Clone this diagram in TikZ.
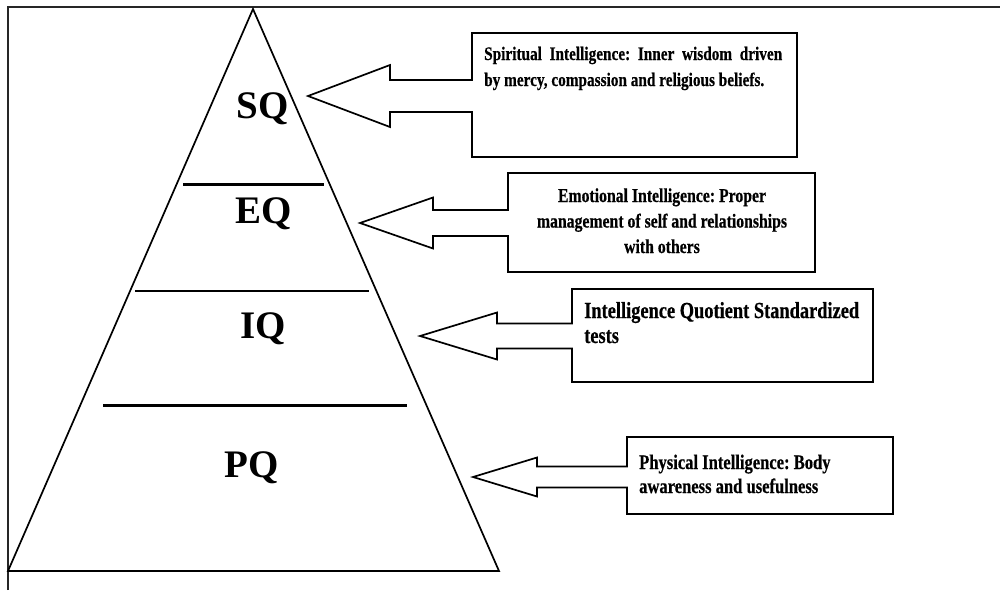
\documentclass[tikz,border=0pt]{standalone}
\usepackage{fontspec}
\setmainfont{Liberation Serif}
\newfontfamily\condfont[FakeStretch=0.8,FakeBold=0.5]{Liberation Serif}
\tikzset{
  frameline/.style={line width=2pt, draw=black!85},
  triline/.style={line width=1.7pt},
  sepline/.style={line width=3pt},
  callline/.style={line width=1.7pt, line join=miter},
  lvl/.style={anchor=base, inner sep=0pt, font=\fontsize{39}{39}\selectfont\bfseries},
  boxtext/.style={inner sep=0pt},
}
\newcommand\callout[9]{%
  \draw[callline] (#6,#7) -- (#6,#2-#5) -- (#3,#2-#5) -- (#3,#2-#4) -- (#1,#2)
    -- (#3,#2+#4) -- (#3,#2+#5) -- (#6,#2+#5) -- (#6,#9) -- (#8,#9) -- (#8,#7) -- cycle;}
\newcommand\tfont[2]{\condfont\bfseries\fontsize{#1}{#2}\selectfont\frenchspacing\renewcommand\arraystretch{1}}
\begin{document}
\begin{tikzpicture}[x=1pt,y=-1pt]
\useasboundingbox (0,0) rectangle (1000,590);
% frame
\coordinate (fb) at (7.5,590);
\coordinate (ftl) at (7.5,7);
\coordinate (ftr) at (1000,7);
\draw[frameline] (fb) -- (ftl) -- (ftr);
% pyramid
\coordinate (apex) at (253,9);
\coordinate (br) at (499,571);
\coordinate (bl) at (8,571);
\draw[triline] (apex) -- (br) -- (bl) -- cycle;
\draw[sepline] (183,184) -- (324,184);
\draw[line width=2.6pt] (135,291) -- (369,291);
\draw[sepline] (103,405) -- (407,405);
% level labels
\node[lvl] (sq) at (263,118) {SQ};
\node[lvl] (eq) at (264,223) {EQ};
\node[lvl] (iq) at (263,338) {IQ};
\node[lvl] (pq) at (252,477) {PQ};
% callouts
\callout{308}{96}{390}{31}{16}{472}{33}{797}{157}
\callout{360}{223}{433}{25.5}{13}{508}{173}{815}{272}
\callout{420}{336}{497}{23.5}{12.5}{572}{289}{873}{382}
\callout{473}{477}{537}{19.5}{10.5}{627}{437}{893}{514}
% texts
\node[boxtext, anchor=base west] (t1) at (484,60) {\tfont{19.1}{26}%
  \begin{tabular}[t]{@{}l@{}}\makebox[298pt][s]{Spiritual Intelligence: Inner wisdom driven}\\
  by mercy, compassion and religious beliefs.\end{tabular}};
\node[boxtext, anchor=base] (t2) at (662,202) {\tfont{19.7}{25.5}%
  \begin{tabular}[t]{@{}c@{}}Emotional Intelligence: Proper\\
  management of self and relationships\\ with others\end{tabular}};
\node[boxtext, anchor=base west] (t3) at (584,318) {\tfont{23}{25}%
  \begin{tabular}[t]{@{}l@{}}Intelligence Quotient Standardized\\ tests\end{tabular}};
\node[boxtext, anchor=base west] (t4) at (639,469) {\tfont{20.7}{24}%
  \begin{tabular}[t]{@{}l@{}}Physical Intelligence: Body\\ awareness and usefulness\end{tabular}};
\end{tikzpicture}
\end{document}
